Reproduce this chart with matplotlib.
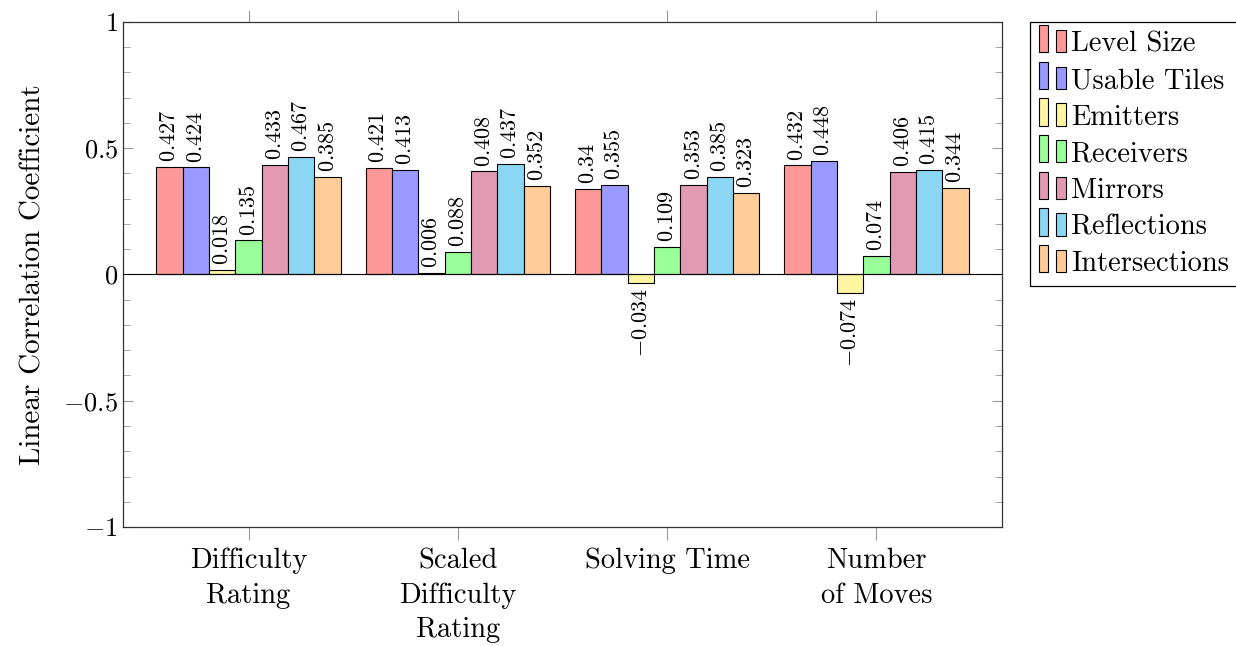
import matplotlib.pyplot as plt
from matplotlib.patches import Rectangle
from matplotlib.legend_handler import HandlerBase
from matplotlib.ticker import MultipleLocator, FuncFormatter

plt.rcParams['font.family'] = ['cmr10', 'DejaVu Serif']
plt.rcParams['mathtext.fontset'] = 'cm'
plt.rcParams['axes.unicode_minus'] = True

groups = ['Difficulty\nRating', 'Scaled\nDifficulty\nRating', 'Solving Time', 'Number\nof Moves']
series = ['Level Size', 'Usable Tiles', 'Emitters', 'Receivers', 'Mirrors', 'Reflections', 'Intersections']
colors = ['#ff9999', '#9999ff', '#fff5a3', '#99ff99', '#e29ab3', '#8ad6f3', '#ffcc99']

level_size = [0.427, 0.421, 0.34, 0.432]
usable_tiles = [0.424, 0.413, 0.355, 0.448]
emitters = [0.018, 0.006, -0.034, -0.074]
receivers = [0.135, 0.088, 0.109, 0.074]
mirrors = [0.433, 0.408, 0.353, 0.406]
reflections = [0.467, 0.437, 0.385, 0.415]
intersections = [0.385, 0.352, 0.323, 0.344]
values = [level_size, usable_tiles, emitters, receivers, mirrors, reflections, intersections]


class DoubleBar(HandlerBase):
    # two small bars side by side, like pgfplots ybar legend
    def create_artists(self, legend, orig, xd, yd, width, height, fontsize, trans):
        fc = orig.get_facecolor()
        bw = width * 0.36
        bh = height * 1.2
        y0 = yd - (bh - height) / 2
        r1 = Rectangle((xd, y0), bw, bh, facecolor=fc, edgecolor='black', lw=0.8, transform=trans)
        r2 = Rectangle((xd + width - bw, y0), bw, bh * 0.82, facecolor=fc,
                       edgecolor='black', lw=0.8, transform=trans)
        return [r1, r2]


fig = plt.figure(figsize=(12.36, 6.46), dpi=100)
ax = fig.add_axes([0.0995, 0.1842, 0.7112, 0.7818])

w = 0.126
x = range(len(groups))
handles = []
for i, (name, vals) in enumerate(zip(series, values)):
    xs = [g + (i - 3) * w for g in x]
    bars = ax.bar(xs, vals, width=w, color=colors[i], edgecolor='black', linewidth=0.8,
                  label=name, zorder=2)
    handles.append(bars[0])
    for xx, v in zip(xs, vals):
        if v >= 0:
            ax.annotate('$%g$' % v, (xx, v), xytext=(0, 3.5), textcoords='offset points',
                        rotation=90, ha='center', va='bottom', fontsize=16)
        else:
            ax.annotate('$%g$' % v, (xx, v), xytext=(0, -3.5), textcoords='offset points',
                        rotation=90, ha='center', va='top', fontsize=16)

ax.axhline(0, color='black', lw=0.8, zorder=3)
ax.set_xlim(-0.6, 3.6)
ax.set_ylim(-1, 1)
ax.set_xticks(list(x))
ax.set_xticklabels(groups, fontsize=20.5, linespacing=1.4)
ax.yaxis.set_major_locator(MultipleLocator(0.5))
ax.yaxis.set_minor_locator(MultipleLocator(0.1))
ax.yaxis.set_major_formatter(FuncFormatter(lambda v, p: '$%g$' % v))
ax.tick_params(axis='y', which='both', direction='in', left=True, right=True,
               color='#999999', labelsize=19)
ax.tick_params(axis='y', which='major', length=7)
ax.tick_params(axis='y', which='minor', length=5)
ax.tick_params(axis='x', direction='out', top=True, length=9, color='#999999', pad=6)
for s in ax.spines.values():
    s.set_color('#333333')
    s.set_linewidth(0.9)

ax.set_ylabel('Linear Correlation Coefficient', fontsize=21, labelpad=12)

leg = ax.legend(handles=handles, labels=series, loc='upper left', bbox_to_anchor=(1.032, 1.0),
                borderaxespad=0, fontsize=20.5, handler_map={h: DoubleBar() for h in handles},
                handlelength=0.95, handleheight=0.85, handletextpad=0.2, labelspacing=0.33,
                borderpad=0.3, fancybox=False, framealpha=1)
leg.get_frame().set_edgecolor('black')
leg.get_frame().set_linewidth(0.9)

fig.savefig('out.png', dpi=100)
